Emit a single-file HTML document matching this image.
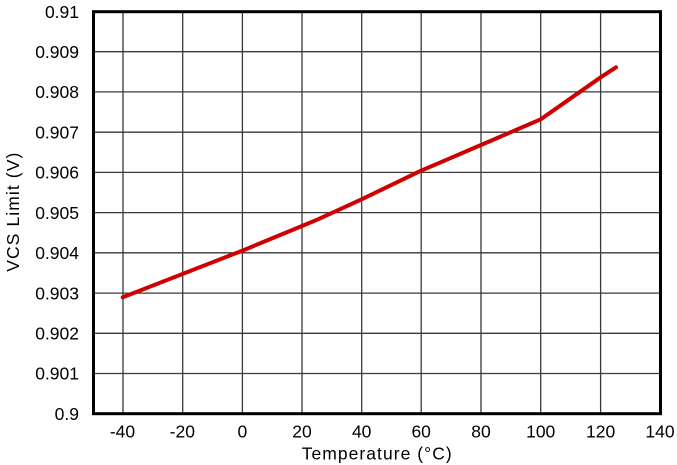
<!DOCTYPE html>
<html>
<head>
<meta charset="utf-8">
<style>
  html, body { margin: 0; padding: 0; background: #ffffff; }
  svg { display: block; }
  text { font-family: "Liberation Sans", Arial, sans-serif; fill: #000; }
</style>
</head>
<body>
<svg width="677" height="465" viewBox="0 0 677 465" xmlns="http://www.w3.org/2000/svg">
  <rect x="0" y="0" width="677" height="465" fill="#ffffff"/>
  <!-- horizontal gridlines -->
  <g stroke="#3a3a3a" stroke-width="1.3" fill="none">
    <line x1="93.5" y1="373.5" x2="660.5" y2="373.5"/>
    <line x1="93.5" y1="333.3" x2="660.5" y2="333.3"/>
    <line x1="93.5" y1="293.1" x2="660.5" y2="293.1"/>
    <line x1="93.5" y1="252.8" x2="660.5" y2="252.8"/>
    <line x1="93.5" y1="212.6" x2="660.5" y2="212.6"/>
    <line x1="93.5" y1="172.4" x2="660.5" y2="172.4"/>
    <line x1="93.5" y1="132.2" x2="660.5" y2="132.2"/>
    <line x1="93.5" y1="91.9" x2="660.5" y2="91.9"/>
    <line x1="93.5" y1="51.7" x2="660.5" y2="51.7"/>
  </g>
  <!-- vertical gridlines -->
  <g stroke="#3a3a3a" stroke-width="1.3" fill="none">
    <line x1="123" y1="11.7" x2="123" y2="413.7"/>
    <line x1="182.7" y1="11.7" x2="182.7" y2="413.7"/>
    <line x1="242.4" y1="11.7" x2="242.4" y2="413.7"/>
    <line x1="302" y1="11.7" x2="302" y2="413.7"/>
    <line x1="361.7" y1="11.7" x2="361.7" y2="413.7"/>
    <line x1="421.2" y1="11.7" x2="421.2" y2="413.7"/>
    <line x1="481" y1="11.7" x2="481" y2="413.7"/>
    <line x1="540.7" y1="11.7" x2="540.7" y2="413.7"/>
    <line x1="600.6" y1="11.7" x2="600.6" y2="413.7"/>
  </g>
  <!-- frame -->
  <rect x="93.5" y="11.7" width="567" height="402" fill="none" stroke="#000" stroke-width="3"/>
  <!-- data line -->
  <polyline fill="none" stroke="#d00000" stroke-width="4" stroke-linejoin="round" stroke-linecap="round"
    points="122.7,297.3 242.5,250.6 302,226 318,219.3 361.7,199.3 421,170.7 436,164.3 481,145 540.7,119.3 600.7,77.3 616,67.3"/>
  <!-- y tick labels -->
  <g font-size="17.5" text-anchor="end">
    <text x="79" y="18">0.91</text>
    <text x="79" y="58">0.909</text>
    <text x="79" y="98.2">0.908</text>
    <text x="79" y="138.4">0.907</text>
    <text x="79" y="178.6">0.906</text>
    <text x="79" y="218.8">0.905</text>
    <text x="79" y="259">0.904</text>
    <text x="79" y="299.3">0.903</text>
    <text x="79" y="339.5">0.902</text>
    <text x="79" y="379.7">0.901</text>
    <text x="79" y="420">0.9</text>
  </g>
  <!-- x tick labels -->
  <g font-size="17.5" text-anchor="middle">
    <text x="122.5" y="437.5">-40</text>
    <text x="182.3" y="437.5">-20</text>
    <text x="242.4" y="437.5">0</text>
    <text x="302" y="437.5">20</text>
    <text x="361.7" y="437.5">40</text>
    <text x="421.2" y="437.5">60</text>
    <text x="481" y="437.5">80</text>
    <text x="540.7" y="437.5">100</text>
    <text x="600.6" y="437.5">120</text>
    <text x="660" y="437.5">140</text>
  </g>
  <!-- axis titles -->
  <text x="301.7" y="459.5" font-size="17.5" textLength="150" lengthAdjust="spacing">Temperature (°C)</text>
  <text transform="translate(19,271.7) rotate(-90)" font-size="17.5" textLength="119" lengthAdjust="spacing">VCS Limit (V)</text>
</svg>
</body>
</html>
